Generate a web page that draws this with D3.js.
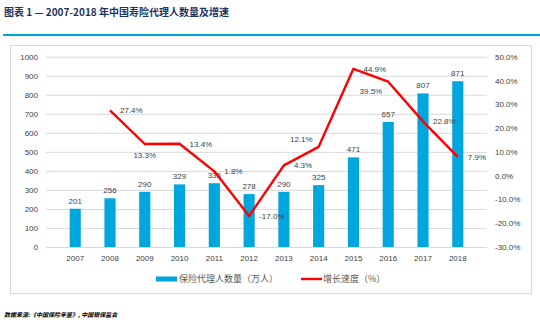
<!DOCTYPE html>
<html>
<head>
<meta charset="utf-8">
<script src="https://cdn.jsdelivr.net/npm/d3@7"></script>
<style>
    body { margin: 0; background: #fff; }
    text { font-family: "Liberation Sans", Arial, "Noto Sans CJK SC", sans-serif; }
    .cjk { font-family: "Noto Sans CJK SC", sans-serif; }
</style>
</head>
<body>
<script>
// Agent headcount (10k people) and yearly growth rate (%)
const years = ["2007", "2008", "2009", "2010", "2011", "2012", "2013", "2014", "2015", "2016", "2017", "2018"];
const agents = [201, 256, 290, 329, 335, 278, 290, 325, 471, 657, 807, 871];
const growthYears = ["2008", "2009", "2010", "2011", "2012", "2013", "2014", "2015", "2016", "2017", "2018"];
const growth = [27.4, 13.3, 13.4, 1.8, -17.0, 4.3, 12.1, 44.9, 39.5, 22.8, 7.9];
const leftTicks = [0, 100, 200, 300, 400, 500, 600, 700, 800, 900, 1000];
const rightTicks = [-30, -20, -10, 0, 10, 20, 30, 40, 50];

const W = 540, H = 326;
const barColor = "#00a6de";
const lineColor = "#ff0000";
const textColor = "#404040";

const svg = d3.select("body")
    .append("svg")
    .attr("width", W)
    .attr("height", H);

// Title and rule
svg.append("text")
    .attr("class", "cjk")
    .attr("x", 4)
    .attr("y", 16)
    .style("font-size", "10px")
    .style("font-weight", "bold")
    .style("fill", "#1d3461")
    .text("图表 1 — 2007-2018 年中国寿险代理人数量及增速");

svg.append("rect")
    .attr("x", 3)
    .attr("y", 34)
    .attr("width", W - 3)
    .attr("height", 2)
    .style("fill", "#00a3da");

// Chart frame
svg.append("rect")
    .attr("x", 10.5)
    .attr("y", 45.5)
    .attr("width", 521)
    .attr("height", 248)
    .style("fill", "none")
    .style("stroke", "#d9d9d9");

const plot = { left: 46, right: 487, top: 56.7, bottom: 247 };

const x = d3.scaleBand()
    .domain(years)
    .range([plot.left, plot.right])
    .padding(0.68);

const yLeft = d3.scaleLinear()
    .domain([0, 1000])
    .range([plot.bottom, plot.top]);

const yRight = d3.scaleLinear()
    .domain([-30, 50])
    .range([plot.bottom, plot.top]);

// Gridlines + left axis labels
const leftAxis = svg.append("g")
    .attr("transform", `translate(${plot.left},0)`)
    .call(d3.axisLeft(yLeft)
        .tickValues(leftTicks)
        .tickFormat(d3.format("d"))
        .tickSizeInner(-(plot.right - plot.left))
        .tickSizeOuter(0)
        .tickPadding(8));
leftAxis.select(".domain").remove();
leftAxis.selectAll("line").style("stroke", "#d9d9d9");
leftAxis.selectAll("text").style("font-size", "8px").style("fill", textColor);

// Right axis labels
const rightAxis = svg.append("g")
    .attr("transform", `translate(${plot.right},0)`)
    .call(d3.axisRight(yRight)
        .tickValues(rightTicks)
        .tickSize(0)
        .tickPadding(8)
        .tickFormat(d => d.toFixed(1) + "%"));
rightAxis.select(".domain").remove();
rightAxis.selectAll("text").style("font-size", "8px").style("fill", textColor);

// Year labels
const bottomAxis = svg.append("g")
    .attr("transform", `translate(0,${plot.bottom})`)
    .call(d3.axisBottom(x).tickSize(0).tickPadding(8));
bottomAxis.select(".domain").remove();
bottomAxis.selectAll("text").style("font-size", "8px").style("fill", textColor);

// Bars
svg.selectAll(".bar")
    .data(years)
    .enter()
    .append("rect")
    .attr("class", "bar")
    .attr("x", d => x(d))
    .attr("y", (d, i) => yLeft(agents[i]))
    .attr("width", x.bandwidth())
    .attr("height", (d, i) => plot.bottom - yLeft(agents[i]))
    .style("fill", barColor);

svg.selectAll(".bar-label")
    .data(years)
    .enter()
    .append("text")
    .attr("class", "bar-label")
    .attr("x", d => x(d) + x.bandwidth() / 2)
    .attr("y", (d, i) => yLeft(agents[i]) - 5)
    .style("text-anchor", "middle")
    .style("font-size", "8px")
    .style("fill", textColor)
    .text((d, i) => agents[i]);

// Growth line
const cx = d => x(d) + x.bandwidth() / 2;
const line = d3.line()
    .x(d => cx(d[0]))
    .y(d => yRight(d[1]));

svg.append("path")
    .datum(growthYears.map((d, i) => [d, growth[i]]))
    .attr("d", line)
    .style("fill", "none")
    .style("stroke", lineColor)
    .style("stroke-width", 2.4)
    .style("stroke-linejoin", "round");

// Growth labels: mostly to the right of the point, a few moved to avoid the line
const labelOffset = {
    "2009": { dx: 0, dy: 11, anchor: "middle" },
    "2014": { dx: -6, dy: -8, anchor: "end" },
    "2016": { dx: -6, dy: 10, anchor: "end" }
};
svg.selectAll(".line-label")
    .data(growthYears)
    .enter()
    .append("text")
    .attr("class", "line-label")
    .attr("x", d => cx(d) + (labelOffset[d] ? labelOffset[d].dx : 10))
    .attr("y", (d, i) => yRight(growth[i]) + (labelOffset[d] ? labelOffset[d].dy : 0))
    .attr("dy", "0.35em")
    .style("text-anchor", d => labelOffset[d] ? labelOffset[d].anchor : "start")
    .style("font-size", "8px")
    .style("fill", textColor)
    .text((d, i) => growth[i].toFixed(1) + "%");

// Legend
const legend = svg.append("g").attr("transform", "translate(156,279)");
legend.append("rect")
    .attr("x", 0)
    .attr("y", -2.5)
    .attr("width", 21)
    .attr("height", 5)
    .style("fill", barColor);
legend.append("text")
    .attr("class", "cjk")
    .attr("x", 23)
    .attr("dy", "0.35em")
    .style("font-size", "9px")
    .style("fill", "#595959")
    .text("保险代理人数量（万人）");
legend.append("line")
    .attr("x1", 145)
    .attr("x2", 166)
    .style("stroke", lineColor)
    .style("stroke-width", 2.4);
legend.append("text")
    .attr("class", "cjk")
    .attr("x", 167)
    .attr("dy", "0.35em")
    .style("font-size", "9px")
    .style("fill", "#595959")
    .text("增长速度（%）");

// Source note
svg.append("text")
    .attr("class", "cjk")
    .attr("x", 4)
    .attr("y", 317)
    .style("font-size", "6px")
    .style("font-weight", "bold")
    .style("font-style", "italic")
    .style("fill", "#000")
    .text("数据来源:《中国保险年鉴》, 中国银保监会");
</script>
</body>
</html>
